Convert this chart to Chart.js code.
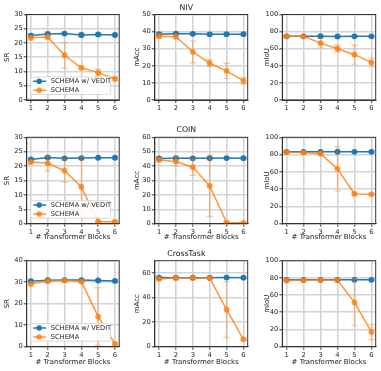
<!DOCTYPE html>
<html>
<head>
<meta charset="utf-8">
<script src="https://cdn.jsdelivr.net/npm/chart.js@4.4.1/dist/chart.umd.min.js"></script>
<style>
  html, body { margin: 0; padding: 0; background: #fff; }
  #wrap { position: relative; width: 381px; height: 371px; overflow: hidden; }
  canvas { position: absolute; }
</style>
</head>
<body>
<div id="wrap"></div>
<script>
// x values and labels
const blocks = [1, 2, 3, 4, 5, 6];
const seriesNames = ['SCHEMA w/ VEDIT', 'SCHEMA'];
const datasetNames = ['NIV', 'COIN', 'CrossTask'];
const metricNames = ['SR', 'mAcc', 'mIoU'];
const xTitle = '# Transformer Blocks';

// NIV
const nivSrTicks = [0, 5, 10, 15, 20, 25, 30];
const nivSrVedit = [22.6, 23.2, 23.3, 22.8, 23.0, 22.8];
const nivSrVeditErr = [0.6, 0.6, 0.5, 0.6, 0.5, 0.4];
const nivSrSchema = [21.8, 22.1, 15.7, 11.3, 9.6, 7.4];
const nivSrSchemaErr = [0.7, 0.6, 4.5, 0.6, 1.2, 0.6];

const nivAccTicks = [0, 10, 20, 30, 40, 50];
const nivAccVedit = [38.5, 38.8, 38.7, 38.4, 38.5, 38.5];
const nivAccVeditErr = [0.8, 0.6, 0.6, 0.8, 0.6, 0.6];
const nivAccSchema = [37.3, 37.0, 28.2, 21.5, 17.0, 11.2];
const nivAccSchemaErr = [1.2, 1.0, 6.4, 2.0, 4.5, 1.8];

const nivIouTicks = [0, 20, 40, 60, 80, 100];
const nivIouVedit = [74.5, 74.5, 74.6, 74.4, 74.5, 74.5];
const nivIouVeditErr = [1.0, 1.0, 1.0, 1.0, 1.0, 1.0];
const nivIouSchema = [74.5, 74.5, 66.5, 60.0, 53.0, 44.0];
const nivIouSchemaErr = [1.0, 1.0, 5.5, 4.0, 11.0, 5.0];

// COIN
const coinSrTicks = [0, 5, 10, 15, 20, 25, 30];
const coinSrVedit = [22.3, 23.0, 22.7, 22.8, 22.9, 22.9];
const coinSrVeditErr = [0.5, 0.4, 0.4, 0.4, 0.4, 0.4];
const coinSrSchema = [21.4, 21.0, 18.4, 12.8, 0.7, 0.7];
const coinSrSchemaErr = [0.6, 2.6, 4.0, 10.3, 0.3, 0.3];

const coinAccTicks = [0, 10, 20, 30, 40, 50, 60];
const coinAccVedit = [45.3, 45.5, 45.4, 45.5, 45.6, 45.5];
const coinAccVeditErr = [0.8, 0.8, 0.6, 0.6, 0.6, 0.6];
const coinAccSchema = [44.3, 43.2, 39.2, 26.3, 0.8, 0.6];
const coinAccSchemaErr = [1.0, 3.4, 5.6, 21.3, 0.5, 0.4];

const coinIouTicks = [0, 20, 40, 60, 80, 100];
const coinIouVedit = [83.2, 83.2, 83.2, 83.3, 83.2, 83.2];
const coinIouVeditErr = [0.8, 0.8, 0.8, 0.8, 0.8, 0.8];
const coinIouSchema = [82.8, 82.3, 81.0, 63.5, 34.5, 34.0];
const coinIouSchemaErr = [1.0, 1.0, 1.5, 25.5, 1.0, 1.0];

// CrossTask
const crossSrTicks = [0, 10, 20, 30, 40];
const crossSrVedit = [30.5, 30.9, 31.0, 31.0, 30.8, 30.6];
const crossSrVeditErr = [0.5, 0.5, 0.5, 0.5, 0.5, 0.5];
const crossSrSchema = [29.2, 30.5, 30.9, 30.3, 14.0, 1.3];
const crossSrSchemaErr = [0.8, 0.6, 0.5, 0.6, 13.4, 0.5];

const crossAccTicks = [0, 20, 40, 60];
const crossAccVedit = [56.3, 56.2, 56.2, 56.2, 56.3, 56.2];
const crossAccVeditErr = [0.6, 0.5, 0.5, 0.5, 0.5, 0.5];
const crossAccSchema = [55.2, 56.0, 56.0, 55.9, 30.2, 6.0];
const crossAccSchemaErr = [0.8, 0.5, 0.5, 0.6, 22.7, 1.0];

const crossIouTicks = [0, 20, 40, 60, 80, 100];
const crossIouVedit = [77.8, 77.8, 77.8, 77.8, 77.8, 77.8];
const crossIouVeditErr = [0.8, 0.8, 0.8, 0.8, 0.8, 0.8];
const crossIouSchema = [77.0, 77.3, 77.5, 77.3, 51.5, 17.0];
const crossIouSchemaErr = [0.8, 0.6, 0.6, 0.6, 27.0, 9.0];

// Panel setup (row = dataset, col = metric)
const panels = [
  { row: 0, col: 0, max: 30, ticks: nivSrTicks, a: nivSrVedit, aErr: nivSrVeditErr, b: nivSrSchema, bErr: nivSrSchemaErr },
  { row: 0, col: 1, max: 50, ticks: nivAccTicks, a: nivAccVedit, aErr: nivAccVeditErr, b: nivAccSchema, bErr: nivAccSchemaErr },
  { row: 0, col: 2, max: 100, ticks: nivIouTicks, a: nivIouVedit, aErr: nivIouVeditErr, b: nivIouSchema, bErr: nivIouSchemaErr },
  { row: 1, col: 0, max: 30, ticks: coinSrTicks, a: coinSrVedit, aErr: coinSrVeditErr, b: coinSrSchema, bErr: coinSrSchemaErr },
  { row: 1, col: 1, max: 60, ticks: coinAccTicks, a: coinAccVedit, aErr: coinAccVeditErr, b: coinAccSchema, bErr: coinAccSchemaErr },
  { row: 1, col: 2, max: 100, ticks: coinIouTicks, a: coinIouVedit, aErr: coinIouVeditErr, b: coinIouSchema, bErr: coinIouSchemaErr },
  { row: 2, col: 0, max: 40, ticks: crossSrTicks, a: crossSrVedit, aErr: crossSrVeditErr, b: crossSrSchema, bErr: crossSrSchemaErr },
  { row: 2, col: 1, max: 70, ticks: crossAccTicks, a: crossAccVedit, aErr: crossAccVeditErr, b: crossAccSchema, bErr: crossAccSchemaErr },
  { row: 2, col: 2, max: 100, ticks: crossIouTicks, a: crossIouVedit, aErr: crossIouVeditErr, b: crossIouSchema, bErr: crossIouSchemaErr },
];

// Geometry of each grid cell
const colBox = [
  { left: 0, width: 125, axisW: 26.7, padR: 5.8, labelPad: 2.8 },
  { left: 125, width: 127, axisW: 29.8, padR: 4.3, labelPad: 8.3 },
  { left: 252, width: 129, axisW: 30.3, padR: 5.3, labelPad: 11.3 },
];
const rowBox = [
  { top: 0, height: 118, plotTop: 14.5, plotBottom: 100, xTitlePad: 3 },
  { top: 118, height: 126, plotTop: 137.3, plotBottom: 223.7, xTitlePad: 2.6 },
  { top: 244, height: 127, plotTop: 260.7, plotBottom: 346.7, xTitlePad: 4.6 },
];

const FONT = "'DejaVu Sans', sans-serif";
const TEXT = '#1a1a1a';
const BLUE = '#1f77b4';
const ORANGE = 'rgba(255,127,14,0.82)';
const GRID = '#d4d4d4';
const tickSize = 6.7, labelSize = 7, titleSize = 7.8, titleGap = 2.3;

// error bars drawn just before each line
const errorBars = {
  id: 'errorBars',
  beforeDatasetDraw(chart, args) {
    const ds = chart.data.datasets[args.index];
    if (!ds.err) return;
    const ctx = chart.ctx, xs = chart.scales.x, ys = chart.scales.y;
    ctx.save();
    ctx.strokeStyle = ds.errColor;
    ctx.lineWidth = 1.4;
    ds.data.forEach((p, i) => {
      const x = xs.getPixelForValue(p.x);
      const y0 = ys.getPixelForValue(p.y - ds.err[i]);
      const y1 = ys.getPixelForValue(p.y + ds.err[i]);
      ctx.beginPath();
      ctx.moveTo(x, y0); ctx.lineTo(x, y1);
      ctx.moveTo(x - 3.2, y0); ctx.lineTo(x + 3.2, y0);
      ctx.moveTo(x - 3.2, y1); ctx.lineTo(x + 3.2, y1);
      ctx.stroke();
    });
    ctx.restore();
  }
};

// box round the axes, like matplotlib spines
const frame = {
  id: 'frame',
  afterDatasetsDraw(chart) {
    const { ctx, chartArea: a } = chart;
    ctx.save();
    ctx.strokeStyle = '#333';
    ctx.lineWidth = 1;
    ctx.strokeRect(a.left, a.top, a.right - a.left, a.bottom - a.top);
    ctx.restore();
  }
};

// legend box in the lower left of the plot
const boxLegend = {
  id: 'boxLegend',
  afterDraw(chart, args, opts) {
    if (!opts.show) return;
    const { ctx, chartArea: a } = chart;
    const w = 80, h = 17.6;
    const x0 = a.left + 4, y0 = a.bottom - 5.5 - h;
    ctx.save();
    ctx.beginPath();
    ctx.roundRect(x0, y0, w, h, 2);
    ctx.fillStyle = 'rgba(255,255,255,0.85)';
    ctx.fill();
    ctx.strokeStyle = '#d0d0d0';
    ctx.lineWidth = 0.8;
    ctx.stroke();
    ctx.font = tickSize + 'px ' + FONT;
    ctx.textBaseline = 'middle';
    chart.data.datasets.forEach((ds, i) => {
      const y = y0 + 4.4 + i * 9;
      ctx.strokeStyle = ds.borderColor;
      ctx.lineWidth = 1.5;
      ctx.beginPath();
      ctx.moveTo(x0 + 2.5, y); ctx.lineTo(x0 + 15.5, y);
      ctx.stroke();
      ctx.fillStyle = ds.borderColor;
      ctx.beginPath();
      ctx.arc(x0 + 8.5, y, 2.8, 0, Math.PI * 2);
      ctx.fill();
      ctx.fillStyle = TEXT;
      ctx.fillText(ds.label, x0 + 20, y + 0.3);
    });
    ctx.restore();
  }
};

function makePanel(p) {
  const cb = colBox[p.col], rb = rowBox[p.row];
  const canvas = document.createElement('canvas');
  canvas.width = cb.width;
  canvas.height = rb.height;
  canvas.style.left = cb.left + 'px';
  canvas.style.top = rb.top + 'px';
  document.getElementById('wrap').appendChild(canvas);

  const hasTitle = p.col === 1;
  const hasXTitle = p.row > 0;
  const topPad = rb.plotTop - rb.top - (hasTitle ? titleSize * 1.2 + titleGap : 0);
  const xAxisH = rb.top + rb.height - rb.plotBottom;

  new Chart(canvas, {
    type: 'line',
    data: {
      datasets: [
        {
          label: seriesNames[0],
          data: blocks.map((b, i) => ({ x: b, y: p.a[i] })),
          err: p.aErr,
          errColor: 'rgba(31,119,180,0.35)',
          borderColor: BLUE,
          backgroundColor: BLUE,
          borderWidth: 1.5,
          pointRadius: 2.9,
          pointBorderWidth: 0,
          order: 2,
        },
        {
          label: seriesNames[1],
          data: blocks.map((b, i) => ({ x: b, y: p.b[i] })),
          err: p.bErr,
          errColor: 'rgba(255,127,14,0.4)',
          borderColor: ORANGE,
          backgroundColor: ORANGE,
          borderWidth: 1.5,
          pointRadius: 2.9,
          pointBorderWidth: 0,
          order: 1,
        },
      ],
    },
    options: {
      responsive: false,
      animation: false,
      events: [],
      devicePixelRatio: 1,
      layout: { padding: { top: topPad, right: cb.padR, left: 0, bottom: 0 } },
      plugins: {
        legend: { display: false },
        tooltip: { enabled: false },
        title: {
          display: hasTitle,
          text: datasetNames[p.row],
          color: TEXT,
          font: { family: FONT, size: titleSize, weight: 'normal' },
          padding: { top: 0, bottom: titleGap },
        },
        boxLegend: { show: p.col === 0 },
      },
      scales: {
        x: {
          type: 'linear',
          min: 0.75,
          max: 6.25,
          afterBuildTicks: (axis) => { axis.ticks = blocks.map(v => ({ value: v })); },
          afterFit: (axis) => { axis.height = xAxisH; },
          grid: { color: GRID, lineWidth: 1.6, tickColor: '#333', tickLength: 3, tickWidth: 1 },
          border: { color: '#333', width: 1 },
          ticks: { color: TEXT, font: { family: FONT, size: tickSize }, padding: 1.2, maxRotation: 0 },
          title: {
            display: hasXTitle,
            text: xTitle,
            color: TEXT,
            font: { family: FONT, size: labelSize },
            padding: { top: 0, bottom: rb.xTitlePad },
          },
        },
        y: {
          min: 0,
          max: p.max,
          afterBuildTicks: (axis) => { axis.ticks = p.ticks.map(v => ({ value: v })); },
          afterFit: (axis) => { axis.width = cb.axisW; },
          grid: { color: GRID, lineWidth: 1.6, tickColor: '#333', tickLength: 3, tickWidth: 1 },
          border: { color: '#333', width: 1 },
          ticks: { color: TEXT, font: { family: FONT, size: tickSize }, padding: 1 },
          title: {
            display: true,
            text: metricNames[p.col],
            color: TEXT,
            font: { family: FONT, size: labelSize },
            padding: { top: cb.labelPad, bottom: 0 },
          },
        },
      },
    },
    plugins: [errorBars, frame, boxLegend],
  });
}

panels.forEach(makePanel);
</script>
</body>
</html>
